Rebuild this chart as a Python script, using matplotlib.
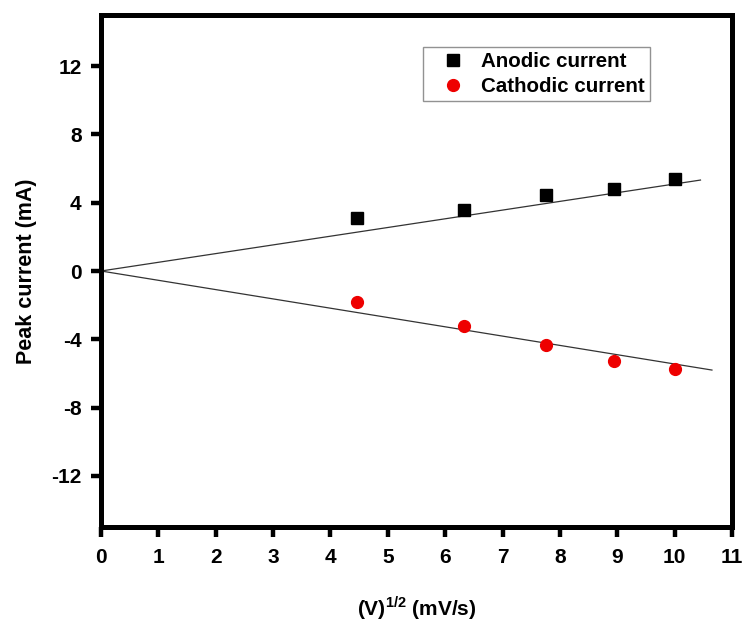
import matplotlib.pyplot as plt
import numpy as np

plt.rcParams['font.family'] = ['Liberation Sans', 'DejaVu Sans']
plt.rcParams['font.weight'] = 'bold'
plt.rcParams['axes.unicode_minus'] = False

# square root of scan rate
sqrt_v = [4.47, 6.32, 7.75, 8.94, 10.0]
anodic = [3.1, 3.6, 4.45, 4.8, 5.4]
cathodic = [-1.8, -3.2, -4.35, -5.3, -5.75]

# fitted lines through the origin
anodic_slope, anodic_xend = 0.51, 10.45
cathodic_slope, cathodic_xend = -0.545, 10.65

fig = plt.figure(figsize=(7.44, 6.21), dpi=100)
ax = fig.add_axes([0.1358, 0.1514, 0.8481, 0.8244])

xa = np.array([0, anodic_xend])
xc = np.array([0, cathodic_xend])
ax.plot(xa, anodic_slope * xa, color='#333333', lw=0.9)
ax.plot(xc, cathodic_slope * xc, color='#333333', lw=0.9)

ax.plot(sqrt_v, anodic, 's', color='black', ms=8, label='Anodic current')
ax.plot(sqrt_v, cathodic, 'o', color='#ee0000', ms=8.5, label='Cathodic current')

ax.set_xlim(0, 11)
ax.set_ylim(-15, 15)
ax.set_xticks(range(0, 12))
ax.set_yticks([-12, -8, -4, 0, 4, 8, 12])

for s in ax.spines.values():
    s.set_linewidth(3.6)
ax.tick_params(direction='out', length=7, width=3.2, labelsize=15)
ax.tick_params(axis='x', pad=8)
ax.tick_params(axis='y', pad=7)
for lab in ax.get_xticklabels() + ax.get_yticklabels():
    lab.set_fontweight('bold')

ax.set_xlabel(r'(V)$^{\mathregular{1/2}}$ (mV/s)', fontsize=15, fontweight='bold', labelpad=20)
ax.set_ylabel('Peak current (mA)', fontsize=15.5, fontweight='bold', labelpad=10)

leg = ax.legend(loc='upper left', bbox_to_anchor=(0.51, 0.9375), fontsize=14.8,
                frameon=True, fancybox=False, edgecolor='#777777',
                handletextpad=0.2, borderpad=0.25, labelspacing=0.3,
                handlelength=2.4, borderaxespad=0)
leg.get_frame().set_linewidth(1.0)
for t in leg.get_texts():
    t.set_fontweight('bold')

plt.savefig('out.png', dpi=100)
